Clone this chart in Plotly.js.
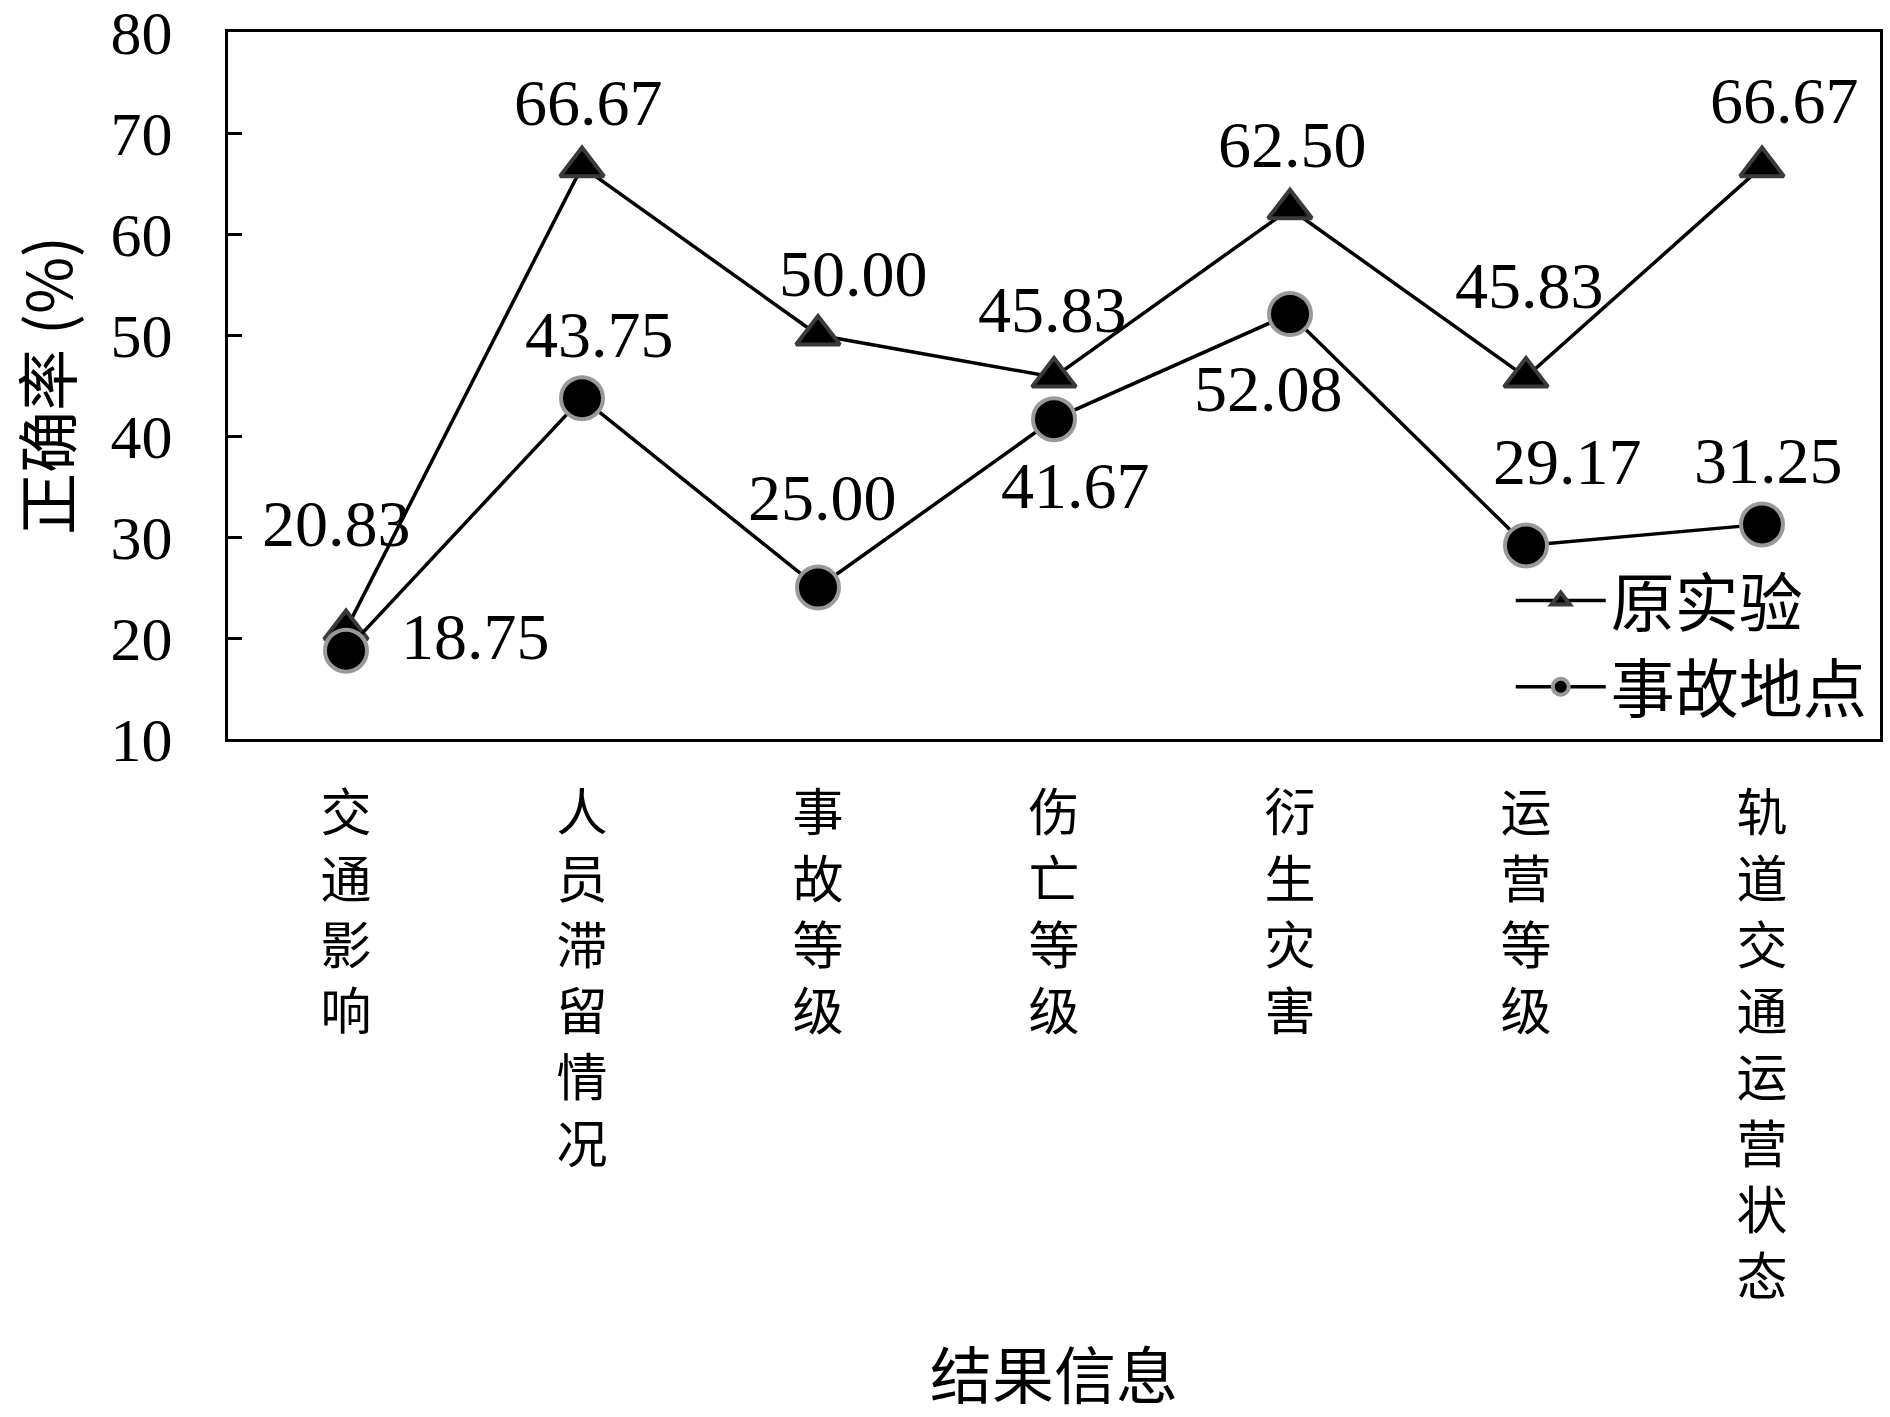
<!DOCTYPE html>
<html>
<head>
<meta charset="utf-8">
<script src="https://cdn.plot.ly/plotly-3.0.1.min.js"></script>
<style>
  body { margin: 0; background: #fff; }
  #plot { width: 1890px; height: 1417px; }
</style>
</head>
<body>
<div id="plot"></div>
<script>
// categories (result information types)
var categories = ['交通影响', '人员滞留情况', '事故等级', '伤亡等级', '衍生灾害', '运营等级', '轨道交通运营状态'];

// accuracy (%) for each series
var original = [20.83, 66.67, 50.00, 45.83, 62.50, 45.83, 66.67];
var location_ = [18.75, 43.75, 25.00, 41.67, 52.08, 29.17, 31.25];

var yTicks = [10, 20, 30, 40, 50, 60, 70, 80];

// pixel nudges for the value labels, [x, y]
var nudgeA = [[-10, 106], [6, 64], [35, 62], [-2, 68], [2, 64], [3, 92], [22, 66]];
var nudgeB = [[129, 14], [17, 64], [4, 90], [21, -66], [-22, -75], [41, 84], [6, 64]];

var numFont = 'Liberation Serif, DejaVu Serif, serif';
var cjkFont = 'Noto Sans CJK SC, sans-serif';

// stack the category labels vertically, one char per line
var tickText = categories.map(function (c) { return c.split('').join('<br>'); });

var trace1 = {
  x: categories,
  y: original,
  name: '原实验',
  mode: 'lines+markers',
  type: 'scatter',
  line: {color: '#000', width: 3.5},
  marker: {symbol: 'triangle-up', size: 38, color: '#000', line: {color: '#3a3a3a', width: 4}},
  cliponaxis: false
};

var trace2 = {
  x: categories,
  y: location_,
  name: '事故地点',
  mode: 'lines+markers',
  type: 'scatter',
  line: {color: '#000', width: 3.5},
  marker: {symbol: 'circle', size: 42, color: '#000', line: {color: '#999', width: 4}},
  cliponaxis: false
};

function labels(vals, nudge) {
  return vals.map(function (v, i) {
    return {
      x: categories[i], y: v, text: v.toFixed(2),
      showarrow: false,
      xshift: nudge[i][0], yshift: nudge[i][1],
      font: {family: numFont, size: 66, color: '#000'}
    };
  });
}

var data = [trace1, trace2];

var layout = {
  width: 1890,
  height: 1417,
  margin: {l: 228, r: 10, t: 32, b: 678},
  paper_bgcolor: '#fff',
  plot_bgcolor: '#fff',
  showlegend: true,
  legend: {
    x: 0.995, y: 0.005, xanchor: 'right', yanchor: 'bottom',
    bgcolor: 'rgba(0,0,0,0)',
    font: {family: cjkFont, size: 64, color: '#000'},
    itemwidth: 90,
    tracegroupgap: 0
  },
  annotations: labels(original, nudgeA).concat(labels(location_, nudgeB)),
  xaxis: {
    type: 'category',
    tickvals: categories,
    ticktext: tickText,
    tickfont: {family: cjkFont, size: 51, color: '#000'},
    ticklabelstandoff: 28,
    showline: true, mirror: true, linecolor: '#000', linewidth: 3,
    ticks: '', showgrid: false, zeroline: false,
    range: [-0.5, 6.5],
    title: {text: '结果信息', font: {family: cjkFont, size: 62, color: '#000'}, standoff: 62}
  },
  yaxis: {
    range: [10, 80],
    tickvals: yTicks,
    tickfont: {family: numFont, size: 62, color: '#000'},
    ticklabeloverflow: 'allow',
    ticks: 'inside', ticklen: 14, tickwidth: 3, tickcolor: '#000',
    ticklabelstandoff: 40,
    showline: true, mirror: true, linecolor: '#000', linewidth: 3,
    showgrid: false, zeroline: false,
    title: {text: '正确率 (%)', font: {family: cjkFont, size: 62, color: '#000'}, standoff: 36}
  }
};

Plotly.newPlot('plot', data, layout, {displayModeBar: false, staticPlot: true});
</script>
</body>
</html>
